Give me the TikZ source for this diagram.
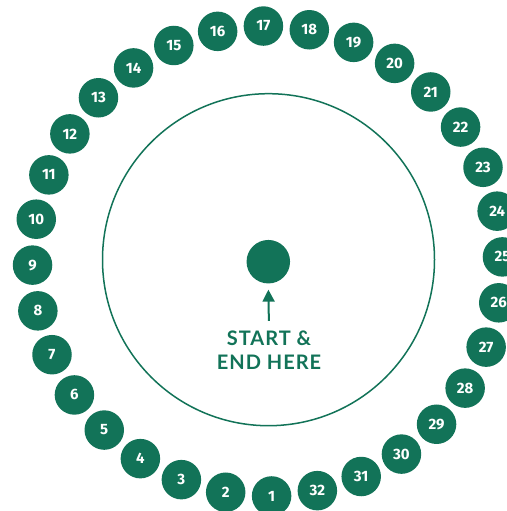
\documentclass[tikz,border=0pt]{standalone}
\usepackage{fontspec}
\setsansfont{Fira Sans}
\newfontfamily\labelfont[LetterSpace=5]{Lato}
\usetikzlibrary{arrows.meta}
\definecolor{ringgreen}{HTML}{127358}

\begin{document}
\begin{tikzpicture}[x=1pt,y=-1pt,>={Triangle[width=12pt,length=12pt]}]

  \useasboundingbox (0,0) rectangle (506,511);
  \tikzset{spot/.style={circle,fill=ringgreen,minimum size=39.5pt,inner sep=0pt,
      text=white,font=\sffamily\bfseries\fontsize{15}{15}\selectfont}}

  % Numbered spots
  \foreach \n in {1,...,32} {
    \node[spot] (s\n) at ({267.5+235*cos(-89-(\n-1)*11.25)},{261-235*sin(-89-(\n-1)*11.25)}) {\n};
  }

  % Inner ring
  \draw[ringgreen,line width=1.5pt] (268.5,259.7) circle[radius=166pt];

  % Start spot
  \node[circle,fill=ringgreen,minimum size=43.5pt,inner sep=0pt] (start) at (268.3,261.7) {};

  % Label
  \node[text=ringgreen,inner sep=0pt,align=center,
    font=\labelfont\bfseries\fontsize{20}{24.3}\selectfont] (label) at (269,350.5) {START \&\\END HERE};
  \draw[->,ringgreen,line width=2pt,shorten <=10pt,shorten >=6pt] (label.north) -- (start.south);

\end{tikzpicture}
\end{document}
